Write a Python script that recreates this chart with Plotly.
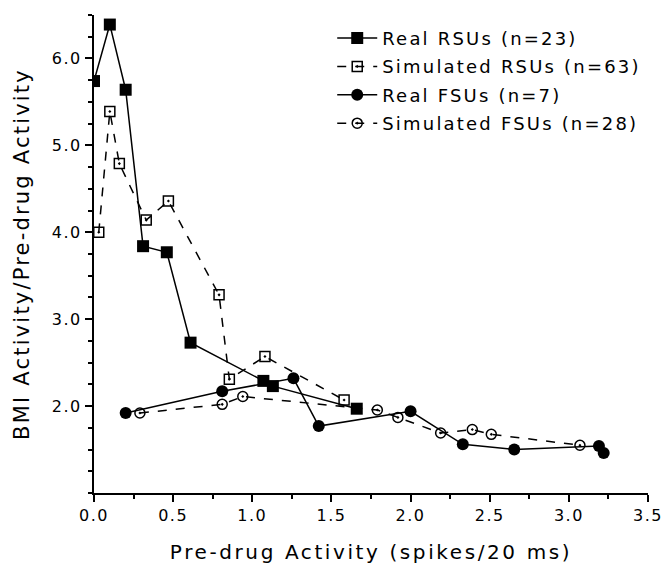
import plotly.graph_objects as go

# Real RSUs
real_rsu_x = [0.0, 0.10, 0.20, 0.31, 0.46, 0.61, 1.07, 1.13, 1.66]
real_rsu_y = [5.74, 6.39, 5.64, 3.84, 3.77, 2.73, 2.29, 2.23, 1.97]

# Simulated RSUs
sim_rsu_x = [0.03, 0.10, 0.16, 0.33, 0.47, 0.79, 0.855, 1.08, 1.58]
sim_rsu_y = [4.00, 5.39, 4.79, 4.14, 4.36, 3.28, 2.31, 2.57, 2.07]

# Real FSUs
real_fsu_x = [0.20, 0.81, 1.26, 1.42, 2.00, 2.33, 2.655, 3.19, 3.22]
real_fsu_y = [1.92, 2.17, 2.32, 1.77, 1.94, 1.56, 1.50, 1.54, 1.46]

# Simulated FSUs
sim_fsu_x = [0.29, 0.81, 0.94, 1.79, 1.92, 2.19, 2.39, 2.51, 3.07]
sim_fsu_y = [1.92, 2.02, 2.11, 1.955, 1.87, 1.69, 1.73, 1.675, 1.55]

names = ["Real RSUs (n=23)", "Simulated RSUs (n=63)", "Real FSUs (n=7)", "Simulated FSUs (n=28)"]
x_ticks = [0.0, 0.5, 1.0, 1.5, 2.0, 2.5, 3.0, 3.5]
x_tick_text = ["0.0", "0.5", "1.0", "1.5", "2.0", "2.5", "3.0", "3.5"]
y_ticks = [2.0, 3.0, 4.0, 5.0, 6.0]
y_tick_text = ["2.0", "3.0", "4.0", "5.0", "6.0"]
x_title = "Pre-drug Activity (spikes/20 ms)"
y_title = "BMI Activity/Pre-drug Activity"

FONT = "DejaVu Sans"


def spaced(s, px):
    return '<span style="letter-spacing:%.1fpx">%s</span>' % (px, s)


fig = go.Figure()
fig.add_trace(go.Scatter(x=real_rsu_x, y=real_rsu_y, name=spaced(names[0], 2.2), mode="lines+markers",
                         legendgroup="a",
                         line=dict(color="black", width=1.5, dash="solid"),
                         marker=dict(symbol="square", size=12, color="black")))
fig.add_trace(go.Scatter(x=sim_rsu_x, y=sim_rsu_y, name=spaced(names[1], 2.2), mode="lines+markers",
                         legendgroup="b",
                         line=dict(color="black", width=1.5, dash="dash"),
                         marker=dict(symbol="square-open-dot", size=10, color="black",
                                     line=dict(width=1.5, color="black"))))
fig.add_trace(go.Scatter(x=real_fsu_x, y=real_fsu_y, name=spaced(names[2], 2.2), mode="lines+markers",
                         legendgroup="c",
                         line=dict(color="black", width=1.5, dash="solid"),
                         marker=dict(symbol="circle", size=12, color="black")))
fig.add_trace(go.Scatter(x=sim_fsu_x, y=sim_fsu_y, name=spaced(names[3], 2.2), mode="lines+markers",
                         legendgroup="d",
                         line=dict(color="black", width=1.5, dash="dash"),
                         marker=dict(symbol="circle-open-dot", size=10, color="black",
                                     line=dict(width=1.5, color="black"))))

fig.update_layout(
    width=665, height=564,
    margin=dict(l=94, r=17, t=15, b=71),
    paper_bgcolor="white", plot_bgcolor="white",
    font=dict(family=FONT, color="black", size=16),
    showlegend=True,
    legend=dict(x=0.43, y=0.99, xanchor="left", yanchor="top",
                font=dict(family=FONT, size=18, color="black"),
                bgcolor="rgba(0,0,0,0)", tracegroupgap=2, itemwidth=40),
)
fig.update_xaxes(
    range=[0, 3.5], tickvals=x_ticks, ticktext=[spaced(t, 1.5) for t in x_tick_text],
    automargin=False,
    showgrid=False, zeroline=False, showline=True, linecolor="black", linewidth=2,
    ticks="outside", ticklen=7, tickwidth=2, tickcolor="black",
    tickfont=dict(family=FONT, size=16),
    minor=dict(dtick=0.25, ticks="outside", ticklen=4, tickwidth=1.5, tickcolor="black"),
    title=dict(text=spaced(x_title, 2.6), font=dict(family=FONT, size=20), standoff=22),
)
fig.update_yaxes(
    range=[1.0, 6.5], tickvals=y_ticks, ticktext=[spaced(t, 1.5) for t in y_tick_text],
    automargin=False,
    showgrid=False, zeroline=False, showline=True, linecolor="black", linewidth=2,
    ticks="outside", ticklen=7, tickwidth=2, tickcolor="black",
    tickfont=dict(family=FONT, size=16),
    minor=dict(tick0=1.0, dtick=0.25, ticks="outside", ticklen=4, tickwidth=1.5, tickcolor="black"),
    title=dict(text=spaced(y_title, 2.2), font=dict(family=FONT, size=21), standoff=16),
)

fig.write_html("out.html")
